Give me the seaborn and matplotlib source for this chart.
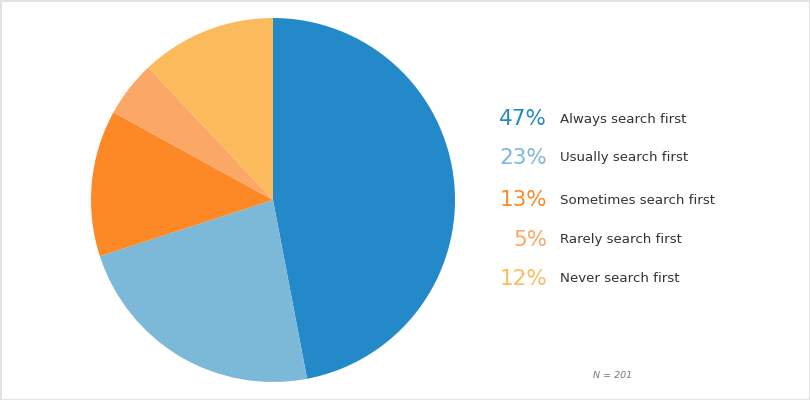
import matplotlib
matplotlib.use("Agg")
import matplotlib.pyplot as plt
import seaborn as sns

# survey answers
categories = ["Always search first", "Usually search first", "Sometimes search first",
              "Rarely search first", "Never search first"]
shares = [47, 23, 13, 5, 12]
pct_labels = ["47%", "23%", "13%", "5%", "12%"]
colors = ["#2389C9", "#7CB9D9", "#FD8826", "#FBA766", "#FBBB5C"]
sample_note = "N = 201"

sns.set_theme(style="white")
plt.rcParams["font.family"] = ["DejaVu Sans"]

W, H = 810, 400
fig = plt.figure(figsize=(W / 100, H / 100), dpi=100)
fig.patch.set_facecolor("white")
fig.patch.set_edgecolor("#e2e2e2")
fig.patch.set_linewidth(2)

# pie: centre (273, 200) px, radius 182 px
cx, cy, r = 273, 200, 182
ax = fig.add_axes([(cx - r) / W, (H - cy - r) / H, 2 * r / W, 2 * r / H])
ax.pie(shares, colors=colors, startangle=90, counterclock=False, radius=1,
       wedgeprops=dict(linewidth=0))
ax.set_xlim(-1, 1)
ax.set_ylim(-1, 1)
ax.set_aspect("equal")
ax.axis("off")

# legend text
rows_y = [119, 158, 200, 240, 279]
for pct, cat, col, y in zip(pct_labels, categories, colors, rows_y):
    fig.text(547 / W, 1 - y / H, pct, color=col, fontsize=15.5, ha="right", va="center")
    fig.text(560 / W, 1 - y / H, cat, color="#333333", fontsize=9.6, ha="left", va="center")

fig.text(613 / W, 1 - 376 / H, sample_note, color="#777777", fontsize=6.8, style="italic",
         ha="center", va="center")

fig.savefig("out.png", dpi=100, facecolor=fig.get_facecolor(), edgecolor=fig.get_edgecolor())
